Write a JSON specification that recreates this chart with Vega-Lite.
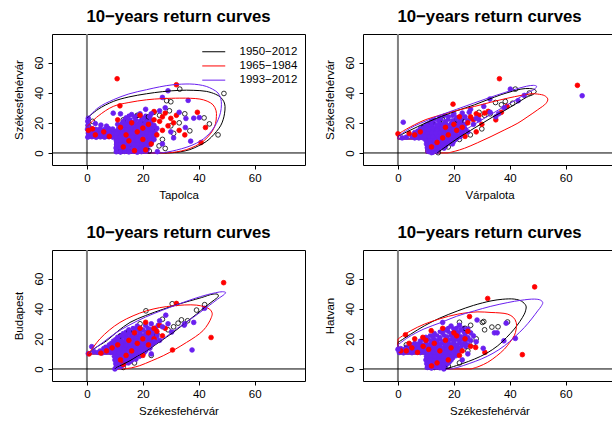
{
"$schema":"https://vega.github.io/schema/vega-lite/v6.json",
"autosize":{"type":"none"},
"padding":{"left":52,"top":34,"right":560,"bottom":387},
"background":"white",
"columns":2,
"spacing":{"row":85,"column":58},
"bounds":"flush",
"resolve":{"legend":{"color":"independent"}},
"datasets":{
"e1":[
{"x":11.2,"y":2.1},{"x":12.7,"y":2.1},{"x":14.2,"y":2.1},{"x":15.7,"y":2.1},{"x":17.2,"y":2.1},{"x":18.7,"y":2.1},{"x":20.2,"y":2.1},{"x":21.7,"y":2.1},
{"x":11.2,"y":4.6},{"x":12.7,"y":4.6},{"x":14.2,"y":4.6},{"x":15.7,"y":4.6},{"x":17.2,"y":4.6},{"x":18.7,"y":4.6},{"x":20.2,"y":4.6},{"x":21.7,"y":4.6},
{"x":11.2,"y":7.1},{"x":12.7,"y":7.1},{"x":14.2,"y":7.1},{"x":15.7,"y":7.1},{"x":17.2,"y":7.1},{"x":18.7,"y":7.1},{"x":20.2,"y":7.1},{"x":21.7,"y":7.1},{"x":23.2,"y":7.1},
{"x":11.2,"y":9.6},{"x":12.7,"y":9.6},{"x":14.2,"y":9.6},{"x":15.7,"y":9.6},{"x":17.2,"y":9.6},{"x":18.7,"y":9.6},{"x":20.2,"y":9.6},{"x":21.7,"y":9.6},{"x":23.2,"y":9.6},
{"x":1,"y":12},{"x":2.5,"y":12},{"x":4,"y":12},{"x":5.5,"y":12},{"x":7,"y":12},{"x":8.5,"y":12},{"x":11.2,"y":12},{"x":12.7,"y":12},{"x":14.2,"y":12},{"x":15.7,"y":12},{"x":17.2,"y":12},{"x":18.7,"y":12},{"x":20.2,"y":12},{"x":21.7,"y":12},{"x":23.2,"y":12},{"x":24.5,"y":12},
{"x":1,"y":14.5},{"x":2.5,"y":14.5},{"x":4,"y":14.5},{"x":5.5,"y":14.5},{"x":7,"y":14.5},{"x":8.5,"y":14.5},{"x":10,"y":14.5},{"x":11.7,"y":14.5},{"x":13.2,"y":14.5},{"x":14.7,"y":14.5},{"x":16.2,"y":14.5},{"x":17.7,"y":14.5},{"x":19.2,"y":14.5},{"x":20.7,"y":14.5},{"x":22.2,"y":14.5},{"x":23.7,"y":14.5},
{"x":11.8,"y":17},{"x":13.3,"y":17},{"x":14.8,"y":17},{"x":16.3,"y":17},{"x":17.8,"y":17},{"x":19.3,"y":17},{"x":20.8,"y":17},{"x":22.3,"y":17},{"x":23.8,"y":17},
{"x":12.5,"y":19.6},{"x":14,"y":19.6},{"x":15.5,"y":19.6},{"x":17,"y":19.6},{"x":18.5,"y":19.6},{"x":20,"y":19.6},{"x":21.5,"y":19.6},{"x":23,"y":19.6},
{"x":13.5,"y":22},{"x":15.5,"y":22},{"x":17.5,"y":22},{"x":19.5,"y":22},{"x":21.5,"y":22},{"x":15,"y":24.6},{"x":18,"y":24.6},{"x":21,"y":24.6}
],
"e2":[
{"x":11.7,"y":2.2},{"x":13.2,"y":2.2},{"x":14.7,"y":2.2},
{"x":11.2,"y":4.7},{"x":12.7,"y":4.7},{"x":14.2,"y":4.7},{"x":15.7,"y":4.7},{"x":17.2,"y":4.7},
{"x":10.9,"y":7.2},{"x":12.4,"y":7.2},{"x":13.9,"y":7.2},{"x":15.4,"y":7.2},{"x":16.9,"y":7.2},{"x":18.4,"y":7.2},{"x":19.9,"y":7.2},
{"x":6,"y":9.7},{"x":7.5,"y":9.7},{"x":9,"y":9.7},{"x":10.7,"y":9.7},{"x":12.2,"y":9.7},{"x":13.7,"y":9.7},{"x":15.2,"y":9.7},{"x":16.7,"y":9.7},{"x":18.2,"y":9.7},{"x":19.7,"y":9.7},{"x":21.2,"y":9.7},
{"x":5.7,"y":12.2},{"x":7.2,"y":12.2},{"x":8.7,"y":12.2},{"x":10.2,"y":12.2},{"x":11.7,"y":12.2},{"x":13.2,"y":12.2},{"x":14.7,"y":12.2},{"x":16.2,"y":12.2},{"x":17.7,"y":12.2},{"x":19.2,"y":12.2},{"x":20.7,"y":12.2},{"x":22.5,"y":12.2},
{"x":7,"y":14.7},{"x":8.5,"y":14.7},{"x":10,"y":14.7},{"x":11.5,"y":14.7},{"x":13,"y":14.7},{"x":14.5,"y":14.7},{"x":16,"y":14.7},{"x":17.5,"y":14.7},{"x":19,"y":14.7},{"x":20.5,"y":14.7},{"x":22,"y":14.7},{"x":23.5,"y":14.7},
{"x":9,"y":17.2},{"x":10.7,"y":17.2},{"x":12.2,"y":17.2},{"x":13.7,"y":17.2},{"x":15.2,"y":17.2},{"x":16.7,"y":17.2},{"x":18.2,"y":17.2},{"x":19.7,"y":17.2},{"x":21.2,"y":17.2},{"x":23,"y":17.2},
{"x":11,"y":19.7},{"x":13,"y":19.7},{"x":15,"y":19.7},{"x":17,"y":19.7},{"x":19,"y":19.7},{"x":21,"y":19.7},{"x":23,"y":19.7},
{"x":13,"y":22.2},{"x":15.5,"y":22.2},{"x":18,"y":22.2},{"x":20.5,"y":22.2},{"x":23,"y":22.2},{"x":16.5,"y":24.7},{"x":19.5,"y":24.7},{"x":22.5,"y":24.7}
],
"e3":[
{"x":11.2,"y":2.2},{"x":12.7,"y":2.2},
{"x":10.9,"y":4.7},{"x":12.4,"y":4.7},{"x":13.9,"y":4.7},{"x":15.4,"y":4.7},
{"x":10.7,"y":7.2},{"x":12.2,"y":7.2},{"x":13.7,"y":7.2},{"x":15.2,"y":7.2},{"x":16.7,"y":7.2},
{"x":10.5,"y":9.7},{"x":12,"y":9.7},{"x":13.5,"y":9.7},{"x":15,"y":9.7},{"x":16.5,"y":9.7},{"x":18,"y":9.7},{"x":19.5,"y":9.7},
{"x":4.7,"y":12.2},{"x":6.2,"y":12.2},{"x":7.7,"y":12.2},{"x":9.2,"y":12.2},{"x":10.7,"y":12.2},{"x":12.2,"y":12.2},{"x":13.7,"y":12.2},{"x":15.2,"y":12.2},{"x":16.7,"y":12.2},{"x":18.2,"y":12.2},{"x":19.7,"y":12.2},{"x":21.2,"y":12.2},
{"x":6.7,"y":14.7},{"x":8.2,"y":14.7},{"x":9.7,"y":14.7},{"x":11.2,"y":14.7},{"x":12.7,"y":14.7},{"x":14.2,"y":14.7},{"x":15.7,"y":14.7},{"x":17.2,"y":14.7},{"x":18.7,"y":14.7},{"x":20.2,"y":14.7},{"x":21.7,"y":14.7},
{"x":8.7,"y":17.2},{"x":10.2,"y":17.2},{"x":11.7,"y":17.2},{"x":13.2,"y":17.2},{"x":14.7,"y":17.2},{"x":16.2,"y":17.2},{"x":17.7,"y":17.2},{"x":19.2,"y":17.2},{"x":20.7,"y":17.2},{"x":22.2,"y":17.2},{"x":23.7,"y":17.2},
{"x":10.2,"y":19.7},{"x":12,"y":19.7},{"x":14,"y":19.7},{"x":16,"y":19.7},{"x":18,"y":19.7},{"x":20,"y":19.7},{"x":22,"y":19.7},{"x":24,"y":19.7},
{"x":12,"y":22.2},{"x":14,"y":22.2},{"x":16,"y":22.2},{"x":18,"y":22.2},{"x":20,"y":22.2},{"x":22,"y":22.2},{"x":24,"y":22.2},
{"x":14,"y":24.7},{"x":16.2,"y":24.7},{"x":18.7,"y":24.7},{"x":21.2,"y":24.7},{"x":23.5,"y":24.7},{"x":16.5,"y":27.2},{"x":19,"y":27.2},{"x":21.7,"y":27.2},{"x":24,"y":27.2}
],
"e4":[
{"x":11.2,"y":2.2},{"x":12.7,"y":2.2},{"x":14.2,"y":2.2},{"x":15.7,"y":2.2},{"x":17.2,"y":2.2},
{"x":11,"y":4.7},{"x":12.5,"y":4.7},{"x":14,"y":4.7},{"x":15.5,"y":4.7},{"x":17,"y":4.7},{"x":18.5,"y":4.7},
{"x":10.7,"y":7.2},{"x":12.2,"y":7.2},{"x":13.7,"y":7.2},{"x":15.2,"y":7.2},{"x":16.7,"y":7.2},{"x":18.2,"y":7.2},{"x":19.7,"y":7.2},
{"x":10.9,"y":9.7},{"x":12.4,"y":9.7},{"x":13.9,"y":9.7},{"x":15.4,"y":9.7},{"x":16.9,"y":9.7},{"x":18.4,"y":9.7},{"x":19.9,"y":9.7},{"x":21.4,"y":9.7},
{"x":1.2,"y":12.2},{"x":2.7,"y":12.2},{"x":4.2,"y":12.2},{"x":5.7,"y":12.2},{"x":7.2,"y":12.2},{"x":8.7,"y":12.2},{"x":10.2,"y":12.2},{"x":11.7,"y":12.2},{"x":13.2,"y":12.2},{"x":14.7,"y":12.2},{"x":16.2,"y":12.2},{"x":17.7,"y":12.2},{"x":19.2,"y":12.2},{"x":20.7,"y":12.2},{"x":22.2,"y":12.2},
{"x":3,"y":14.7},{"x":4.7,"y":14.7},{"x":6.2,"y":14.7},{"x":7.7,"y":14.7},{"x":9.2,"y":14.7},{"x":10.7,"y":14.7},{"x":12.2,"y":14.7},{"x":13.7,"y":14.7},{"x":15.2,"y":14.7},{"x":16.7,"y":14.7},{"x":18.2,"y":14.7},{"x":19.7,"y":14.7},{"x":21.2,"y":14.7},{"x":22.7,"y":14.7},{"x":24.2,"y":14.7},
{"x":6,"y":17.2},{"x":8,"y":17.2},{"x":10,"y":17.2},{"x":12,"y":17.2},{"x":14,"y":17.2},{"x":16,"y":17.2},{"x":18,"y":17.2},{"x":20,"y":17.2},{"x":22,"y":17.2},{"x":24,"y":17.2},
{"x":9,"y":19.7},{"x":11,"y":19.7},{"x":13,"y":19.7},{"x":15,"y":19.7},{"x":17,"y":19.7},{"x":19,"y":19.7},{"x":21,"y":19.7},{"x":23,"y":19.7},{"x":25,"y":19.7},
{"x":11.5,"y":22.2},{"x":14,"y":22.2},{"x":16.5,"y":22.2},{"x":19,"y":22.2},{"x":21.5,"y":22.2},{"x":24,"y":22.2},
{"x":15,"y":24.7},{"x":18,"y":24.7},{"x":21,"y":24.7},{"x":23.5,"y":24.7},{"x":18,"y":27.2},{"x":21,"y":27.2},{"x":23.5,"y":27.2}
],
"p1":[
{"x":49,"y":39.5,"g":"a"},{"x":33.2,"y":42.4,"g":"a"},{"x":28.5,"y":34.7,"g":"a"},{"x":30,"y":34,"g":"a"},{"x":29.5,"y":28,"g":"a"},{"x":26,"y":25,"g":"a"},{"x":24,"y":27,"g":"a"},{"x":22,"y":24,"g":"a"},{"x":41.9,"y":23.3,"g":"a"},{"x":43.8,"y":19.3,"g":"a"},{"x":46.9,"y":12,"g":"a"},{"x":36.8,"y":14.7,"g":"a"},{"x":33,"y":20,"g":"a"},{"x":31,"y":13,"g":"a"},{"x":27,"y":9,"g":"a"},{"x":25.8,"y":4.7,"g":"a"},{"x":22.3,"y":1.3,"g":"a"},{"x":28,"y":3,"g":"a"},{"x":20,"y":22,"g":"a"},{"x":18,"y":25,"g":"a"},{"x":13,"y":22,"g":"a"},{"x":2,"y":21,"g":"a"},{"x":0.5,"y":18,"g":"a"},{"x":16,"y":3,"g":"a"},{"x":12,"y":1,"g":"a"},{"x":35,"y":26,"g":"a"},{"x":24,"y":17,"g":"a"},{"x":30,"y":18,"g":"a"},
{"x":0.3,"y":10.5,"g":"c"},{"x":1.8,"y":10.8,"g":"c"},{"x":3.3,"y":10.4,"g":"c"},{"x":4.8,"y":10.7,"g":"c"},{"x":6.3,"y":10.5,"g":"c"},{"x":7.8,"y":10.8,"g":"c"},{"x":9.3,"y":10.5,"g":"c"},
{"x":0.5,"y":13.2,"g":"c"},{"x":2,"y":13.5,"g":"c"},{"x":3.5,"y":13,"g":"c"},{"x":5,"y":13.4,"g":"c"},{"x":6.5,"y":13.1,"g":"c"},{"x":8,"y":13.5,"g":"c"},{"x":9.5,"y":13.2,"g":"c"},
{"x":0.2,"y":15.8,"g":"c"},{"x":1.7,"y":16.2,"g":"c"},{"x":3.2,"y":15.6,"g":"c"},{"x":4.7,"y":16,"g":"c"},{"x":6.2,"y":15.5,"g":"c"},{"x":7.7,"y":16.3,"g":"c"},{"x":9.2,"y":15.9,"g":"c"},
{"x":0.4,"y":18.5,"g":"c"},{"x":0.3,"y":21,"g":"c"},{"x":0.5,"y":23,"g":"c"},{"x":3,"y":19.5,"g":"c"},{"x":5,"y":18.5,"g":"c"},{"x":7,"y":17.8,"g":"c"},
{"x":10.5,"y":0.8,"g":"c"},{"x":12,"y":0.6,"g":"c"},{"x":13.5,"y":1,"g":"c"},{"x":15,"y":0.7,"g":"c"},{"x":16.5,"y":1.1,"g":"c"},{"x":18,"y":0.5,"g":"c"},{"x":19.5,"y":0.9,"g":"c"},{"x":21,"y":1.2,"g":"c"},
{"x":10.4,"y":3.3,"g":"c"},{"x":11.9,"y":3.5,"g":"c"},{"x":13.4,"y":3.1,"g":"c"},{"x":14.9,"y":3.6,"g":"c"},{"x":16.4,"y":3.2,"g":"c"},{"x":17.9,"y":3.5,"g":"c"},{"x":19.4,"y":3.1,"g":"c"},{"x":20.9,"y":3.6,"g":"c"},
{"x":10.6,"y":5.8,"g":"c"},{"x":12.1,"y":6,"g":"c"},{"x":13.6,"y":5.6,"g":"c"},{"x":15.1,"y":6.1,"g":"c"},{"x":16.6,"y":5.7,"g":"c"},{"x":18.1,"y":6,"g":"c"},{"x":19.6,"y":5.6,"g":"c"},{"x":21.1,"y":6.2,"g":"c"},{"x":22.6,"y":5.5,"g":"c"},
{"x":10.5,"y":8.3,"g":"c"},{"x":12,"y":8.6,"g":"c"},{"x":13.5,"y":8.1,"g":"c"},{"x":15,"y":8.5,"g":"c"},{"x":16.5,"y":8.2,"g":"c"},{"x":18,"y":8.6,"g":"c"},{"x":19.5,"y":8.1,"g":"c"},{"x":21,"y":8.4,"g":"c"},{"x":22.5,"y":8.8,"g":"c"},
{"x":10.4,"y":10.8,"g":"c"},{"x":11.9,"y":11,"g":"c"},{"x":13.4,"y":10.6,"g":"c"},{"x":14.9,"y":11.1,"g":"c"},{"x":16.4,"y":10.7,"g":"c"},{"x":17.9,"y":11,"g":"c"},{"x":19.4,"y":10.6,"g":"c"},{"x":20.9,"y":11.2,"g":"c"},{"x":22.4,"y":10.8,"g":"c"},{"x":23.9,"y":11,"g":"c"},
{"x":11,"y":13.3,"g":"c"},{"x":12.5,"y":13.6,"g":"c"},{"x":14,"y":13.1,"g":"c"},{"x":15.5,"y":13.5,"g":"c"},{"x":17,"y":13.2,"g":"c"},{"x":18.5,"y":13.6,"g":"c"},{"x":20,"y":13.1,"g":"c"},{"x":21.5,"y":13.4,"g":"c"},{"x":23,"y":13.7,"g":"c"},{"x":24.5,"y":13.2,"g":"c"},
{"x":11.2,"y":15.8,"g":"c"},{"x":12.7,"y":16,"g":"c"},{"x":14.2,"y":15.6,"g":"c"},{"x":15.7,"y":16.1,"g":"c"},{"x":17.2,"y":15.7,"g":"c"},{"x":18.7,"y":16,"g":"c"},{"x":20.2,"y":15.5,"g":"c"},{"x":21.7,"y":16.2,"g":"c"},{"x":23.2,"y":15.8,"g":"c"},{"x":25,"y":16.3,"g":"c"},
{"x":12,"y":18.3,"g":"c"},{"x":13.5,"y":18.6,"g":"c"},{"x":15,"y":18.1,"g":"c"},{"x":16.5,"y":18.5,"g":"c"},{"x":18,"y":18.2,"g":"c"},{"x":19.5,"y":18.6,"g":"c"},{"x":21,"y":18.2,"g":"c"},{"x":22.5,"y":18.7,"g":"c"},{"x":24,"y":18.3,"g":"c"},
{"x":13,"y":20.8,"g":"c"},{"x":15,"y":21.2,"g":"c"},{"x":17,"y":20.6,"g":"c"},{"x":19,"y":21,"g":"c"},{"x":21,"y":20.7,"g":"c"},{"x":23,"y":21.3,"g":"c"},
{"x":14,"y":23.3,"g":"c"},{"x":17,"y":23.8,"g":"c"},{"x":20,"y":23.2,"g":"c"},{"x":22.5,"y":24,"g":"c"},{"x":12,"y":26,"g":"c"},{"x":16,"y":25.5,"g":"c"},{"x":19,"y":26,"g":"c"},{"x":9.4,"y":26.4,"g":"c"},{"x":11,"y":19,"g":"c"},
{"x":10.8,"y":49.3,"g":"b"},{"x":32,"y":45.3,"g":"b"},{"x":11.8,"y":31.3,"g":"b"},{"x":39.5,"y":27,"g":"b"},{"x":42.4,"y":16.9,"g":"b"},{"x":40.8,"y":6.9,"g":"b"},{"x":35,"y":12,"g":"b"},{"x":12,"y":17,"g":"b"},{"x":14,"y":12,"g":"b"},{"x":16,"y":20,"g":"b"},{"x":18,"y":14,"g":"b"},{"x":20,"y":9,"g":"b"},{"x":22,"y":19,"g":"b"},{"x":24,"y":22,"g":"b"},{"x":26,"y":21,"g":"b"},{"x":27,"y":24,"g":"b"},{"x":28,"y":26.5,"g":"b"},{"x":30,"y":23,"g":"b"},{"x":31,"y":20,"g":"b"},{"x":25,"y":12,"g":"b"},{"x":27,"y":15,"g":"b"},{"x":23,"y":6,"g":"b"},{"x":21,"y":2,"g":"b"},{"x":17,"y":1.5,"g":"b"},{"x":13,"y":4,"g":"b"},{"x":19,"y":25,"g":"b"},{"x":15,"y":8,"g":"b"},{"x":6,"y":14,"g":"b"},{"x":3,"y":12,"g":"b"},{"x":2,"y":16,"g":"b"},{"x":24,"y":27.5,"g":"b"},{"x":29,"y":18,"g":"b"},{"x":32,"y":25,"g":"b"},{"x":33,"y":15,"g":"b"},{"x":20,"y":16.5,"g":"b"},{"x":11,"y":22,"g":"b"},{"x":8,"y":11,"g":"b"},{"x":0.5,"y":15,"g":"b"},
{"x":29,"y":41.3,"g":"c"},{"x":36.2,"y":34.9,"g":"c"},{"x":27,"y":36.9,"g":"c"},{"x":40.2,"y":23.5,"g":"c"},{"x":35.4,"y":22.9,"g":"c"},{"x":38.2,"y":23.1,"g":"c"},{"x":35.2,"y":16.9,"g":"c"},{"x":37.1,"y":7.8,"g":"c"},{"x":25.2,"y":0.9,"g":"c"},{"x":28,"y":30,"g":"c"},{"x":26,"y":28,"g":"c"},{"x":33,"y":27,"g":"c"},{"x":30,"y":14,"g":"c"},{"x":27,"y":6,"g":"c"},{"x":23,"y":26,"g":"c"},{"x":21,"y":29,"g":"c"},{"x":31,"y":10,"g":"c"},{"x":24,"y":9,"g":"c"}
],
"p2":[
{"x":42,"y":42.4,"g":"a"},{"x":47,"y":39.8,"g":"a"},{"x":38.4,"y":34.2,"g":"a"},{"x":34.9,"y":33.5,"g":"a"},{"x":25.9,"y":12,"g":"a"},{"x":14.4,"y":0.2,"g":"a"},{"x":31,"y":25,"g":"a"},{"x":29,"y":27,"g":"a"},{"x":24,"y":21,"g":"a"},{"x":22,"y":9,"g":"a"},{"x":18,"y":4,"g":"a"},{"x":30,"y":16,"g":"a"},{"x":41,"y":33,"g":"a"},{"x":37,"y":32,"g":"a"},{"x":21,"y":22,"g":"a"},{"x":16,"y":22,"g":"a"},{"x":9,"y":17,"g":"a"},{"x":12,"y":20,"g":"a"},{"x":33,"y":26,"g":"a"},
{"x":11,"y":1,"g":"c"},{"x":12.5,"y":0.5,"g":"c"},{"x":14,"y":1.2,"g":"c"},
{"x":10.5,"y":3.5,"g":"c"},{"x":12,"y":3.8,"g":"c"},{"x":13.5,"y":3.3,"g":"c"},{"x":15,"y":3.6,"g":"c"},{"x":16.5,"y":3.2,"g":"c"},
{"x":10.2,"y":6,"g":"c"},{"x":11.7,"y":6.3,"g":"c"},{"x":13.2,"y":5.8,"g":"c"},{"x":14.7,"y":6.2,"g":"c"},{"x":16.2,"y":5.7,"g":"c"},{"x":17.7,"y":6.4,"g":"c"},{"x":19.5,"y":6,"g":"c"},
{"x":10,"y":8.5,"g":"c"},{"x":11.5,"y":8.8,"g":"c"},{"x":13,"y":8.3,"g":"c"},{"x":14.5,"y":8.7,"g":"c"},{"x":16,"y":8.2,"g":"c"},{"x":17.5,"y":8.6,"g":"c"},{"x":19,"y":8.4,"g":"c"},{"x":20.5,"y":8.9,"g":"c"},
{"x":5,"y":11,"g":"c"},{"x":6.5,"y":10.7,"g":"c"},{"x":8,"y":11.3,"g":"c"},{"x":9.5,"y":11,"g":"c"},{"x":11,"y":11.2,"g":"c"},{"x":12.5,"y":10.8,"g":"c"},{"x":14,"y":11.3,"g":"c"},{"x":15.5,"y":10.9,"g":"c"},{"x":17,"y":11.2,"g":"c"},{"x":18.5,"y":10.8,"g":"c"},{"x":20,"y":11.4,"g":"c"},{"x":22,"y":11,"g":"c"},
{"x":6,"y":13.5,"g":"c"},{"x":7.5,"y":13.2,"g":"c"},{"x":9,"y":13.7,"g":"c"},{"x":10.5,"y":13.4,"g":"c"},{"x":12,"y":13.6,"g":"c"},{"x":13.5,"y":13.2,"g":"c"},{"x":15,"y":13.7,"g":"c"},{"x":16.5,"y":13.3,"g":"c"},{"x":18,"y":13.6,"g":"c"},{"x":19.5,"y":13.2,"g":"c"},{"x":21,"y":13.8,"g":"c"},{"x":23,"y":13.4,"g":"c"},
{"x":8,"y":16,"g":"c"},{"x":9.5,"y":16.3,"g":"c"},{"x":11,"y":15.8,"g":"c"},{"x":12.5,"y":16.2,"g":"c"},{"x":14,"y":15.7,"g":"c"},{"x":15.5,"y":16.3,"g":"c"},{"x":17,"y":15.9,"g":"c"},{"x":18.5,"y":16.2,"g":"c"},{"x":20,"y":15.8,"g":"c"},{"x":22,"y":16.4,"g":"c"},{"x":24,"y":16,"g":"c"},
{"x":10,"y":18.5,"g":"c"},{"x":12,"y":18.8,"g":"c"},{"x":14,"y":18.3,"g":"c"},{"x":16,"y":18.7,"g":"c"},{"x":18,"y":18.2,"g":"c"},{"x":20,"y":18.8,"g":"c"},{"x":22,"y":18.4,"g":"c"},{"x":24,"y":19,"g":"c"},
{"x":12,"y":21,"g":"c"},{"x":14.5,"y":21.4,"g":"c"},{"x":17,"y":20.8,"g":"c"},{"x":19.5,"y":21.3,"g":"c"},{"x":22,"y":21,"g":"c"},{"x":25,"y":21.5,"g":"c"},
{"x":15,"y":23.5,"g":"c"},{"x":18,"y":24,"g":"c"},{"x":21,"y":23.4,"g":"c"},{"x":24,"y":24,"g":"c"},{"x":26,"y":23,"g":"c"},{"x":20,"y":26,"g":"c"},{"x":23,"y":26.5,"g":"c"},{"x":25.5,"y":27,"g":"c"},{"x":3,"y":10.5,"g":"c"},{"x":1.5,"y":10,"g":"c"},
{"x":36.3,"y":49.3,"g":"b"},{"x":64.2,"y":44.9,"g":"b"},{"x":19.7,"y":32.4,"g":"b"},{"x":0,"y":12.7,"g":"b"},{"x":39,"y":31,"g":"b"},{"x":32.3,"y":27.6,"g":"b"},{"x":37,"y":27,"g":"b"},{"x":29,"y":25,"g":"b"},{"x":27,"y":22,"g":"b"},{"x":25,"y":20,"g":"b"},{"x":23,"y":17,"g":"b"},{"x":21,"y":15,"g":"b"},{"x":18,"y":12,"g":"b"},{"x":16,"y":10,"g":"b"},{"x":14,"y":7,"g":"b"},{"x":12,"y":4,"g":"b"},{"x":6,"y":12,"g":"b"},{"x":4,"y":13,"g":"b"},{"x":8,"y":14,"g":"b"},{"x":26,"y":24,"g":"b"},{"x":30,"y":19,"g":"b"},{"x":24,"y":11,"g":"b"},{"x":28,"y":14,"g":"b"},{"x":35,"y":22,"g":"b"},{"x":28,"y":26,"g":"b"},{"x":31,"y":26.5,"g":"b"},{"x":20,"y":19,"g":"b"},{"x":17,"y":17,"g":"b"},{"x":22,"y":24,"g":"b"},
{"x":1.9,"y":20.4,"g":"c"},{"x":40.2,"y":42.4,"g":"c"},{"x":45.2,"y":38.2,"g":"c"},{"x":43,"y":34.7,"g":"c"},{"x":32.9,"y":35.8,"g":"c"},{"x":30.7,"y":30.9,"g":"c"},{"x":65.9,"y":38,"g":"c"},{"x":28,"y":23,"g":"c"},{"x":27,"y":19,"g":"c"},{"x":33,"y":27,"g":"c"},{"x":36,"y":26,"g":"c"},{"x":25,"y":14,"g":"c"},{"x":22.3,"y":10.9,"g":"c"},{"x":12,"y":0.2,"g":"c"},{"x":29,"y":22,"g":"c"},{"x":26,"y":29,"g":"c"},{"x":38,"y":30,"g":"c"},{"x":35,"y":24,"g":"c"}
],
"p3":[
{"x":39.2,"y":39.1,"g":"a"},{"x":42.1,"y":42.7,"g":"a"},{"x":33.8,"y":32.6,"g":"a"},{"x":32.6,"y":30.4,"g":"a"},{"x":30.5,"y":43.3,"g":"a"},{"x":21.1,"y":38.6,"g":"a"},{"x":10.6,"y":2,"g":"a"},{"x":23,"y":9,"g":"a"},{"x":29,"y":26,"g":"a"},{"x":27,"y":33,"g":"a"},{"x":25,"y":23,"g":"a"},{"x":19,"y":30,"g":"a"},{"x":15,"y":25,"g":"a"},{"x":12,"y":22,"g":"a"},{"x":17,"y":4,"g":"a"},{"x":13,"y":1,"g":"a"},{"x":31,"y":28,"g":"a"},{"x":36,"y":32,"g":"a"},
{"x":10.5,"y":1,"g":"c"},{"x":12,"y":1.5,"g":"c"},
{"x":10.3,"y":3.5,"g":"c"},{"x":11.8,"y":3.8,"g":"c"},{"x":13.3,"y":3.3,"g":"c"},{"x":14.8,"y":4,"g":"c"},
{"x":10,"y":6,"g":"c"},{"x":11.5,"y":6.3,"g":"c"},{"x":13,"y":5.8,"g":"c"},{"x":14.5,"y":6.2,"g":"c"},{"x":16,"y":5.8,"g":"c"},{"x":17.5,"y":6.5,"g":"c"},
{"x":9.8,"y":8.5,"g":"c"},{"x":11.3,"y":8.8,"g":"c"},{"x":12.8,"y":8.3,"g":"c"},{"x":14.3,"y":8.7,"g":"c"},{"x":15.8,"y":8.2,"g":"c"},{"x":17.3,"y":8.8,"g":"c"},{"x":18.8,"y":8.4,"g":"c"},
{"x":4,"y":11,"g":"c"},{"x":5.5,"y":10.7,"g":"c"},{"x":7,"y":11.2,"g":"c"},{"x":8.5,"y":11,"g":"c"},{"x":10,"y":11.3,"g":"c"},{"x":11.5,"y":10.8,"g":"c"},{"x":13,"y":11.2,"g":"c"},{"x":14.5,"y":10.8,"g":"c"},{"x":16,"y":11.3,"g":"c"},{"x":17.5,"y":10.9,"g":"c"},{"x":19,"y":11.4,"g":"c"},{"x":20.5,"y":11,"g":"c"},
{"x":6,"y":13.5,"g":"c"},{"x":7.5,"y":13.8,"g":"c"},{"x":9,"y":13.3,"g":"c"},{"x":10.5,"y":13.6,"g":"c"},{"x":12,"y":13.2,"g":"c"},{"x":13.5,"y":13.7,"g":"c"},{"x":15,"y":13.3,"g":"c"},{"x":16.5,"y":13.8,"g":"c"},{"x":18,"y":13.4,"g":"c"},{"x":19.5,"y":13.7,"g":"c"},{"x":21,"y":13.2,"g":"c"},{"x":22.5,"y":13.8,"g":"c"},
{"x":8,"y":16,"g":"c"},{"x":9.5,"y":16.3,"g":"c"},{"x":11,"y":15.8,"g":"c"},{"x":12.5,"y":16.2,"g":"c"},{"x":14,"y":15.8,"g":"c"},{"x":15.5,"y":16.3,"g":"c"},{"x":17,"y":15.9,"g":"c"},{"x":18.5,"y":16.4,"g":"c"},{"x":20,"y":15.9,"g":"c"},{"x":21.5,"y":16.3,"g":"c"},{"x":23,"y":15.8,"g":"c"},
{"x":9.5,"y":18.5,"g":"c"},{"x":11,"y":18.8,"g":"c"},{"x":12.5,"y":18.3,"g":"c"},{"x":14,"y":18.7,"g":"c"},{"x":15.5,"y":18.2,"g":"c"},{"x":17,"y":18.8,"g":"c"},{"x":18.5,"y":18.4,"g":"c"},{"x":20,"y":18.9,"g":"c"},{"x":21.5,"y":18.4,"g":"c"},{"x":23,"y":18.8,"g":"c"},{"x":24.5,"y":18.3,"g":"c"},
{"x":11,"y":21,"g":"c"},{"x":13,"y":21.4,"g":"c"},{"x":15,"y":20.8,"g":"c"},{"x":17,"y":21.3,"g":"c"},{"x":19,"y":20.9,"g":"c"},{"x":21,"y":21.4,"g":"c"},{"x":23,"y":21,"g":"c"},{"x":25,"y":21.5,"g":"c"},
{"x":13,"y":23.5,"g":"c"},{"x":15,"y":23.9,"g":"c"},{"x":17,"y":23.3,"g":"c"},{"x":19,"y":23.8,"g":"c"},{"x":21,"y":23.4,"g":"c"},{"x":23,"y":23.8,"g":"c"},{"x":25,"y":23.4,"g":"c"},
{"x":15,"y":26,"g":"c"},{"x":17.5,"y":26.4,"g":"c"},{"x":20,"y":25.9,"g":"c"},{"x":22.5,"y":26.3,"g":"c"},{"x":24.5,"y":27,"g":"c"},
{"x":18,"y":28.5,"g":"c"},{"x":21,"y":29,"g":"c"},{"x":23,"y":30,"g":"c"},{"x":25.5,"y":29,"g":"c"},{"x":1.7,"y":14.8,"g":"c"},{"x":0.5,"y":10.2,"g":"c"},{"x":2.5,"y":11.5,"g":"c"},
{"x":48.9,"y":57.3,"g":"b"},{"x":44.4,"y":20.9,"g":"b"},{"x":30.6,"y":12.6,"g":"b"},{"x":32,"y":43.5,"g":"b"},{"x":0.8,"y":10,"g":"b"},{"x":26,"y":29,"g":"b"},{"x":24,"y":27,"g":"b"},{"x":27,"y":22,"g":"b"},{"x":25,"y":25,"g":"b"},{"x":22,"y":24,"g":"b"},{"x":20,"y":20,"g":"b"},{"x":18,"y":17,"g":"b"},{"x":16,"y":12,"g":"b"},{"x":14,"y":9,"g":"b"},{"x":12,"y":6,"g":"b"},{"x":13,"y":3,"g":"b"},{"x":11,"y":16,"g":"b"},{"x":9,"y":14,"g":"b"},{"x":7,"y":12,"g":"b"},{"x":5,"y":10.5,"g":"b"},{"x":19,"y":27,"g":"b"},{"x":22,"y":16,"g":"b"},{"x":21,"y":31,"g":"b"},{"x":17,"y":24,"g":"b"},{"x":15,"y":19,"g":"b"},{"x":28,"y":27,"g":"b"},{"x":24,"y":20,"g":"b"},{"x":20,"y":9,"g":"b"},
{"x":37.6,"y":12.6,"g":"c"},{"x":42.1,"y":40.3,"g":"c"},{"x":38.2,"y":30.9,"g":"c"},{"x":34.8,"y":29.1,"g":"c"},{"x":28.2,"y":35.7,"g":"c"},{"x":30.3,"y":24.5,"g":"c"},{"x":10,"y":0,"g":"c"},{"x":26,"y":32,"g":"c"},{"x":27,"y":28,"g":"c"},{"x":29,"y":30,"g":"c"},{"x":35,"y":30,"g":"c"},{"x":24,"y":18,"g":"c"},{"x":23,"y":10,"g":"c"},{"x":26,"y":19,"g":"c"}
],
"p4":[
{"x":39.2,"y":31.2,"g":"a"},{"x":35.8,"y":28,"g":"a"},{"x":33.6,"y":27.8,"g":"a"},{"x":30.7,"y":31.5,"g":"a"},{"x":26,"y":29,"g":"a"},{"x":24,"y":27,"g":"a"},{"x":22,"y":31,"g":"a"},{"x":20,"y":24,"g":"a"},{"x":28,"y":20,"g":"a"},{"x":25,"y":12,"g":"a"},{"x":22,"y":4,"g":"a"},{"x":18,"y":2,"g":"a"},{"x":13,"y":1,"g":"a"},{"x":1,"y":12,"g":"a"},{"x":3,"y":16,"g":"a"},{"x":27,"y":17,"g":"a"},{"x":31,"y":26,"g":"a"},{"x":30.2,"y":30.9,"g":"a"},
{"x":10.5,"y":1,"g":"c"},{"x":12,"y":0.6,"g":"c"},{"x":13.5,"y":1.2,"g":"c"},{"x":15,"y":0.8,"g":"c"},{"x":16.5,"y":0.5,"g":"c"},
{"x":10.3,"y":3.5,"g":"c"},{"x":11.8,"y":3.8,"g":"c"},{"x":13.3,"y":3.3,"g":"c"},{"x":14.8,"y":3.7,"g":"c"},{"x":16.3,"y":3.2,"g":"c"},{"x":17.8,"y":3.6,"g":"c"},
{"x":10,"y":6,"g":"c"},{"x":11.5,"y":6.3,"g":"c"},{"x":13,"y":5.8,"g":"c"},{"x":14.5,"y":6.2,"g":"c"},{"x":16,"y":5.7,"g":"c"},{"x":17.5,"y":6.3,"g":"c"},{"x":19,"y":5.9,"g":"c"},
{"x":10.2,"y":8.5,"g":"c"},{"x":11.7,"y":8.8,"g":"c"},{"x":13.2,"y":8.3,"g":"c"},{"x":14.7,"y":8.7,"g":"c"},{"x":16.2,"y":8.2,"g":"c"},{"x":17.7,"y":8.7,"g":"c"},{"x":19.2,"y":8.3,"g":"c"},{"x":20.7,"y":8.8,"g":"c"},
{"x":0.5,"y":11,"g":"c"},{"x":2,"y":10.7,"g":"c"},{"x":3.5,"y":11.2,"g":"c"},{"x":5,"y":10.8,"g":"c"},{"x":6.5,"y":11.3,"g":"c"},{"x":8,"y":10.9,"g":"c"},{"x":9.5,"y":11.2,"g":"c"},{"x":11,"y":10.8,"g":"c"},{"x":12.5,"y":11.3,"g":"c"},{"x":14,"y":10.9,"g":"c"},{"x":15.5,"y":11.2,"g":"c"},{"x":17,"y":10.8,"g":"c"},{"x":18.5,"y":11.3,"g":"c"},{"x":20,"y":10.9,"g":"c"},{"x":21.5,"y":11.2,"g":"c"},
{"x":1,"y":13.5,"g":"c"},{"x":2.5,"y":13.2,"g":"c"},{"x":4,"y":13.7,"g":"c"},{"x":5.5,"y":13.3,"g":"c"},{"x":7,"y":13.6,"g":"c"},{"x":8.5,"y":13.2,"g":"c"},{"x":10,"y":13.7,"g":"c"},{"x":11.5,"y":13.3,"g":"c"},{"x":13,"y":13.6,"g":"c"},{"x":14.5,"y":13.2,"g":"c"},{"x":16,"y":13.7,"g":"c"},{"x":17.5,"y":13.3,"g":"c"},{"x":19,"y":13.6,"g":"c"},{"x":20.5,"y":13.2,"g":"c"},{"x":22,"y":13.7,"g":"c"},
{"x":5,"y":16,"g":"c"},{"x":7,"y":16.3,"g":"c"},{"x":9,"y":15.8,"g":"c"},{"x":11,"y":16.2,"g":"c"},{"x":13,"y":15.8,"g":"c"},{"x":15,"y":16.3,"g":"c"},{"x":17,"y":15.9,"g":"c"},{"x":19,"y":16.2,"g":"c"},{"x":21,"y":15.8,"g":"c"},{"x":23,"y":16.3,"g":"c"},{"x":25,"y":16,"g":"c"},
{"x":8,"y":18.5,"g":"c"},{"x":10,"y":18.8,"g":"c"},{"x":12,"y":18.3,"g":"c"},{"x":14,"y":18.7,"g":"c"},{"x":16,"y":18.2,"g":"c"},{"x":18,"y":18.7,"g":"c"},{"x":20,"y":18.3,"g":"c"},{"x":22,"y":18.8,"g":"c"},{"x":24,"y":18.4,"g":"c"},{"x":26,"y":18.9,"g":"c"},
{"x":10,"y":21,"g":"c"},{"x":12.5,"y":21.3,"g":"c"},{"x":15,"y":20.8,"g":"c"},{"x":17.5,"y":21.3,"g":"c"},{"x":20,"y":20.9,"g":"c"},{"x":22.5,"y":21.3,"g":"c"},{"x":25,"y":20.8,"g":"c"},
{"x":13,"y":23.5,"g":"c"},{"x":16,"y":23.9,"g":"c"},{"x":19,"y":23.4,"g":"c"},{"x":21.5,"y":23.8,"g":"c"},{"x":24,"y":23.3,"g":"c"},{"x":26,"y":24,"g":"c"},
{"x":17,"y":26,"g":"c"},{"x":20,"y":26.5,"g":"c"},{"x":22.5,"y":26,"g":"c"},{"x":25,"y":26.5,"g":"c"},{"x":19,"y":28.5,"g":"c"},{"x":22,"y":29,"g":"c"},
{"x":48.9,"y":54.5,"g":"b"},{"x":32.1,"y":46.8,"g":"b"},{"x":44.5,"y":9.5,"g":"b"},{"x":31.1,"y":11,"g":"b"},{"x":27.8,"y":14.3,"g":"b"},{"x":2.7,"y":22.7,"g":"b"},{"x":25.6,"y":34.8,"g":"b"},{"x":11.9,"y":25.4,"g":"b"},{"x":8.9,"y":21,"g":"b"},{"x":3,"y":12,"g":"b"},{"x":5,"y":14,"g":"b"},{"x":7,"y":11,"g":"b"},{"x":9,"y":15,"g":"b"},{"x":11,"y":13,"g":"b"},{"x":13,"y":17,"g":"b"},{"x":15,"y":12,"g":"b"},{"x":17,"y":19,"g":"b"},{"x":19,"y":14,"g":"b"},{"x":21,"y":22,"g":"b"},{"x":23,"y":12,"g":"b"},{"x":24,"y":20,"g":"b"},{"x":26,"y":15,"g":"b"},{"x":22,"y":9,"g":"b"},{"x":18,"y":6,"g":"b"},{"x":14,"y":4,"g":"b"},{"x":12,"y":2,"g":"b"},{"x":20,"y":24,"g":"b"},{"x":25,"y":25,"g":"b"},{"x":10,"y":19,"g":"b"},{"x":1,"y":12,"g":"b"},{"x":4,"y":17,"g":"b"},{"x":16,"y":27,"g":"b"},{"x":6,"y":20,"g":"b"},
{"x":42,"y":20.3,"g":"c"},{"x":38.7,"y":30.4,"g":"c"},{"x":28.3,"y":32.5,"g":"c"},{"x":34.5,"y":24,"g":"c"},{"x":35.5,"y":24,"g":"c"},{"x":37.9,"y":18.7,"g":"c"},{"x":30.5,"y":13.7,"g":"c"},{"x":16.4,"y":0,"g":"c"},{"x":0,"y":13,"g":"c"},{"x":27,"y":22,"g":"c"},{"x":28,"y":18,"g":"c"},{"x":25,"y":10,"g":"c"},{"x":23,"y":6,"g":"c"},{"x":16,"y":30.9,"g":"c"}
],
"c1":[
{"g":"a","p":1,"i":1,"x":0,"y":23},{"g":"a","p":1,"i":2,"x":4,"y":29},{"g":"a","p":1,"i":3,"x":9.4,"y":34.2},{"g":"a","p":1,"i":4,"x":15,"y":37.2},{"g":"a","p":1,"i":5,"x":21.3,"y":39.3},{"g":"a","p":1,"i":6,"x":27,"y":40.7},{"g":"a","p":1,"i":7,"x":33.2,"y":41.6},{"g":"a","p":1,"i":8,"x":38,"y":41.6},{"g":"a","p":1,"i":9,"x":42.7,"y":40.9},{"g":"a","p":1,"i":10,"x":46,"y":39},{"g":"a","p":1,"i":11,"x":47.8,"y":37},{"g":"a","p":1,"i":12,"x":49,"y":34},{"g":"a","p":1,"i":13,"x":49.4,"y":30.9},{"g":"a","p":1,"i":14,"x":49.2,"y":26},{"g":"a","p":1,"i":15,"x":48.7,"y":22},{"g":"a","p":1,"i":16,"x":47.8,"y":18},{"g":"a","p":1,"i":17,"x":46.3,"y":14.2},{"g":"a","p":1,"i":18,"x":44.5,"y":10.5},{"g":"a","p":1,"i":19,"x":42.7,"y":7.6},{"g":"a","p":1,"i":20,"x":40,"y":4.8},{"g":"a","p":1,"i":21,"x":36.8,"y":2.2},{"g":"a","p":1,"i":22,"x":33.5,"y":0.8},{"g":"a","p":1,"i":23,"x":30.8,"y":0.2},{"g":"a","p":1,"i":24,"x":28,"y":0},
{"g":"b","p":1,"i":1,"x":0,"y":17.5},{"g":"b","p":1,"i":2,"x":4,"y":24.5},{"g":"b","p":1,"i":3,"x":9.4,"y":30.9},{"g":"b","p":1,"i":4,"x":15,"y":33.5},{"g":"b","p":1,"i":5,"x":21.3,"y":35.3},{"g":"b","p":1,"i":6,"x":27,"y":36.1},{"g":"b","p":1,"i":7,"x":33.2,"y":36.4},{"g":"b","p":1,"i":8,"x":37,"y":36.3},{"g":"b","p":1,"i":9,"x":40.4,"y":35.8},{"g":"b","p":1,"i":10,"x":43,"y":34.4},{"g":"b","p":1,"i":11,"x":45.1,"y":32},{"g":"b","p":1,"i":12,"x":46.2,"y":28},{"g":"b","p":1,"i":13,"x":46.3,"y":24.2},{"g":"b","p":1,"i":14,"x":46,"y":19.5},{"g":"b","p":1,"i":15,"x":45.1,"y":15.3},{"g":"b","p":1,"i":16,"x":43.5,"y":11.2},{"g":"b","p":1,"i":17,"x":41.5,"y":7.6},{"g":"b","p":1,"i":18,"x":38.8,"y":4.6},{"g":"b","p":1,"i":19,"x":35.6,"y":2.2},{"g":"b","p":1,"i":20,"x":32,"y":0.7},{"g":"b","p":1,"i":21,"x":28.5,"y":0},
{"g":"c","p":1,"i":1,"x":0,"y":22.5},{"g":"c","p":1,"i":2,"x":4,"y":30},{"g":"c","p":1,"i":3,"x":9.4,"y":35.3},{"g":"c","p":1,"i":4,"x":15,"y":39.2},{"g":"c","p":1,"i":5,"x":21.3,"y":42},{"g":"c","p":1,"i":6,"x":26,"y":43.9},{"g":"c","p":1,"i":7,"x":30.8,"y":45.3},{"g":"c","p":1,"i":8,"x":36.8,"y":45.8},{"g":"c","p":1,"i":9,"x":40,"y":45.3},{"g":"c","p":1,"i":10,"x":42.7,"y":44.2},{"g":"c","p":1,"i":11,"x":45,"y":42.3},{"g":"c","p":1,"i":12,"x":46.9,"y":39.8},{"g":"c","p":1,"i":13,"x":47.9,"y":36},{"g":"c","p":1,"i":14,"x":48.1,"y":32},{"g":"c","p":1,"i":15,"x":47.8,"y":27},{"g":"c","p":1,"i":16,"x":46.9,"y":22},{"g":"c","p":1,"i":17,"x":45.6,"y":17.3},{"g":"c","p":1,"i":18,"x":43.9,"y":13.1},{"g":"c","p":1,"i":19,"x":41.8,"y":9.5},{"g":"c","p":1,"i":20,"x":39.2,"y":6.5},{"g":"c","p":1,"i":21,"x":35.8,"y":3.9},{"g":"c","p":1,"i":22,"x":32,"y":1.9},{"g":"c","p":1,"i":23,"x":29,"y":0.7},{"g":"c","p":1,"i":24,"x":26.1,"y":0},
{"g":"a","p":2,"i":1,"x":28,"y":0},{"g":"a","p":2,"i":2,"x":10,"y":0},{"g":"a","p":2,"i":3,"x":10,"y":10},{"g":"a","p":2,"i":4,"x":0,"y":10},{"g":"a","p":2,"i":5,"x":0,"y":23},
{"g":"b","p":2,"i":1,"x":28.5,"y":0},{"g":"b","p":2,"i":2,"x":10,"y":0},{"g":"b","p":2,"i":3,"x":10,"y":10},{"g":"b","p":2,"i":4,"x":0,"y":10},{"g":"b","p":2,"i":5,"x":0,"y":17.5},
{"g":"c","p":2,"i":1,"x":26.1,"y":0},{"g":"c","p":2,"i":2,"x":10,"y":0},{"g":"c","p":2,"i":3,"x":10,"y":10},{"g":"c","p":2,"i":4,"x":0,"y":10},{"g":"c","p":2,"i":5,"x":0,"y":22.5}
],
"c2":[
{"g":"a","p":1,"i":1,"x":0,"y":11},{"g":"a","p":1,"i":2,"x":3.5,"y":14.3},{"g":"a","p":1,"i":3,"x":7.1,"y":17.5},{"g":"a","p":1,"i":4,"x":11,"y":20.8},{"g":"a","p":1,"i":5,"x":15.5,"y":24.2},{"g":"a","p":1,"i":6,"x":21,"y":28},{"g":"a","p":1,"i":7,"x":27.4,"y":32},{"g":"a","p":1,"i":8,"x":32,"y":35.3},{"g":"a","p":1,"i":9,"x":36.9,"y":38.7},{"g":"a","p":1,"i":10,"x":41,"y":41},{"g":"a","p":1,"i":11,"x":44,"y":42.4},{"g":"a","p":1,"i":12,"x":47,"y":42.8},{"g":"a","p":1,"i":13,"x":49,"y":42},{"g":"a","p":1,"i":14,"x":49.5,"y":40.8},{"g":"a","p":1,"i":15,"x":48.5,"y":39},{"g":"a","p":1,"i":16,"x":46,"y":37},{"g":"a","p":1,"i":17,"x":42,"y":32.4},{"g":"a","p":1,"i":18,"x":38,"y":28},{"g":"a","p":1,"i":19,"x":34,"y":24},{"g":"a","p":1,"i":20,"x":30,"y":19.5},{"g":"a","p":1,"i":21,"x":26,"y":15},{"g":"a","p":1,"i":22,"x":22,"y":10.5},{"g":"a","p":1,"i":23,"x":19.5,"y":7.3},{"g":"a","p":1,"i":24,"x":17,"y":4},{"g":"a","p":1,"i":25,"x":15.5,"y":2},{"g":"a","p":1,"i":26,"x":14,"y":0},
{"g":"b","p":1,"i":1,"x":0,"y":12.5},{"g":"b","p":1,"i":2,"x":3,"y":15.8},{"g":"b","p":1,"i":3,"x":5.9,"y":18.7},{"g":"b","p":1,"i":4,"x":10,"y":22.2},{"g":"b","p":1,"i":5,"x":15.5,"y":25.3},{"g":"b","p":1,"i":6,"x":21,"y":28.2},{"g":"b","p":1,"i":7,"x":27.4,"y":30.9},{"g":"b","p":1,"i":8,"x":33,"y":33.6},{"g":"b","p":1,"i":9,"x":39.3,"y":36.4},{"g":"b","p":1,"i":10,"x":44,"y":38.2},{"g":"b","p":1,"i":11,"x":47.6,"y":39.3},{"g":"b","p":1,"i":12,"x":50,"y":39.1},{"g":"b","p":1,"i":13,"x":52.5,"y":38},{"g":"b","p":1,"i":14,"x":53.6,"y":35.8},{"g":"b","p":1,"i":15,"x":53,"y":33},{"g":"b","p":1,"i":16,"x":50,"y":28.7},{"g":"b","p":1,"i":17,"x":46.5,"y":24.2},{"g":"b","p":1,"i":18,"x":42.9,"y":19.8},{"g":"b","p":1,"i":19,"x":38,"y":15.2},{"g":"b","p":1,"i":20,"x":33.3,"y":10.9},{"g":"b","p":1,"i":21,"x":28.5,"y":6.8},{"g":"b","p":1,"i":22,"x":23.8,"y":3.1},{"g":"b","p":1,"i":23,"x":20.5,"y":1.2},{"g":"b","p":1,"i":24,"x":17.9,"y":0},
{"g":"c","p":1,"i":1,"x":0,"y":11},{"g":"c","p":1,"i":2,"x":3,"y":14.8},{"g":"c","p":1,"i":3,"x":6,"y":18},{"g":"c","p":1,"i":4,"x":10.5,"y":21.6},{"g":"c","p":1,"i":5,"x":15,"y":25},{"g":"c","p":1,"i":6,"x":21,"y":29},{"g":"c","p":1,"i":7,"x":27,"y":33},{"g":"c","p":1,"i":8,"x":32.5,"y":36.6},{"g":"c","p":1,"i":9,"x":38,"y":40},{"g":"c","p":1,"i":10,"x":42,"y":42.3},{"g":"c","p":1,"i":11,"x":46,"y":44.3},{"g":"c","p":1,"i":12,"x":48.5,"y":44.9},{"g":"c","p":1,"i":13,"x":49.6,"y":44.3},{"g":"c","p":1,"i":14,"x":49,"y":42.6},{"g":"c","p":1,"i":15,"x":47,"y":40.5},{"g":"c","p":1,"i":16,"x":45,"y":38.5},{"g":"c","p":1,"i":17,"x":41.5,"y":34.5},{"g":"c","p":1,"i":18,"x":38,"y":30.8},{"g":"c","p":1,"i":19,"x":34,"y":26.4},{"g":"c","p":1,"i":20,"x":30,"y":22},{"g":"c","p":1,"i":21,"x":26,"y":17.5},{"g":"c","p":1,"i":22,"x":22,"y":12.8},{"g":"c","p":1,"i":23,"x":19,"y":8.8},{"g":"c","p":1,"i":24,"x":16,"y":5},{"g":"c","p":1,"i":25,"x":14,"y":2.4},{"g":"c","p":1,"i":26,"x":12.5,"y":0},
{"g":"a","p":2,"i":1,"x":14,"y":0},{"g":"a","p":2,"i":2,"x":10,"y":0},{"g":"a","p":2,"i":3,"x":10,"y":9.3},{"g":"a","p":2,"i":4,"x":0,"y":9.3},{"g":"a","p":2,"i":5,"x":0,"y":11},
{"g":"b","p":2,"i":1,"x":17.9,"y":0},{"g":"b","p":2,"i":2,"x":10,"y":0},{"g":"b","p":2,"i":3,"x":10,"y":9.3},{"g":"b","p":2,"i":4,"x":0,"y":9.3},{"g":"b","p":2,"i":5,"x":0,"y":12.5},
{"g":"c","p":2,"i":1,"x":12.5,"y":0},{"g":"c","p":2,"i":2,"x":10,"y":0},{"g":"c","p":2,"i":3,"x":10,"y":9.3},{"g":"c","p":2,"i":4,"x":0,"y":9.3},{"g":"c","p":2,"i":5,"x":0,"y":11}
],
"c3":[
{"g":"a","p":1,"i":1,"x":0.5,"y":10},{"g":"a","p":1,"i":2,"x":3,"y":14},{"g":"a","p":1,"i":3,"x":7,"y":18.7},{"g":"a","p":1,"i":4,"x":11,"y":25},{"g":"a","p":1,"i":5,"x":15.4,"y":30.9},{"g":"a","p":1,"i":6,"x":21,"y":35.5},{"g":"a","p":1,"i":7,"x":27.3,"y":39.7},{"g":"a","p":1,"i":8,"x":32,"y":42.6},{"g":"a","p":1,"i":9,"x":36.8,"y":45.2},{"g":"a","p":1,"i":10,"x":41,"y":47.4},{"g":"a","p":1,"i":11,"x":45.1,"y":49.7},{"g":"a","p":1,"i":12,"x":46.8,"y":49.5},{"g":"a","p":1,"i":13,"x":47,"y":48.3},{"g":"a","p":1,"i":14,"x":45.1,"y":45.2},{"g":"a","p":1,"i":15,"x":42,"y":40.8},{"g":"a","p":1,"i":16,"x":39.2,"y":36.4},{"g":"a","p":1,"i":17,"x":35,"y":30.3},{"g":"a","p":1,"i":18,"x":30.8,"y":24.2},{"g":"a","p":1,"i":19,"x":26,"y":18},{"g":"a","p":1,"i":20,"x":21.3,"y":12.1},{"g":"a","p":1,"i":21,"x":18,"y":8.5},{"g":"a","p":1,"i":22,"x":15.4,"y":5.5},{"g":"a","p":1,"i":23,"x":12.8,"y":3},{"g":"a","p":1,"i":24,"x":10.6,"y":1.1},{"g":"a","p":1,"i":25,"x":10,"y":0},
{"g":"b","p":1,"i":1,"x":0.5,"y":10},{"g":"b","p":1,"i":2,"x":2.5,"y":15},{"g":"b","p":1,"i":3,"x":4.6,"y":19.9},{"g":"b","p":1,"i":4,"x":8,"y":25.8},{"g":"b","p":1,"i":5,"x":11.8,"y":30.9},{"g":"b","p":1,"i":6,"x":16.5,"y":35.3},{"g":"b","p":1,"i":7,"x":21.3,"y":38.6},{"g":"b","p":1,"i":8,"x":26,"y":40.7},{"g":"b","p":1,"i":9,"x":30.8,"y":41.9},{"g":"b","p":1,"i":10,"x":35,"y":42.5},{"g":"b","p":1,"i":11,"x":39.2,"y":42.4},{"g":"b","p":1,"i":12,"x":42,"y":41.3},{"g":"b","p":1,"i":13,"x":43.9,"y":39.7},{"g":"b","p":1,"i":14,"x":44.8,"y":37},{"g":"b","p":1,"i":15,"x":44.5,"y":34.2},{"g":"b","p":1,"i":16,"x":43.3,"y":29.8},{"g":"b","p":1,"i":17,"x":41.5,"y":25.4},{"g":"b","p":1,"i":18,"x":38.8,"y":21.4},{"g":"b","p":1,"i":19,"x":35.6,"y":17.6},{"g":"b","p":1,"i":20,"x":31.5,"y":13},{"g":"b","p":1,"i":21,"x":27.3,"y":8.8},{"g":"b","p":1,"i":22,"x":23,"y":5.3},{"g":"b","p":1,"i":23,"x":18.9,"y":2.2},{"g":"b","p":1,"i":24,"x":16,"y":0.8},{"g":"b","p":1,"i":25,"x":13,"y":0},
{"g":"c","p":1,"i":1,"x":0.5,"y":10},{"g":"c","p":1,"i":2,"x":3,"y":13.8},{"g":"c","p":1,"i":3,"x":6,"y":18},{"g":"c","p":1,"i":4,"x":10,"y":23.5},{"g":"c","p":1,"i":5,"x":15,"y":29},{"g":"c","p":1,"i":6,"x":21,"y":34.5},{"g":"c","p":1,"i":7,"x":27,"y":39},{"g":"c","p":1,"i":8,"x":32,"y":42.5},{"g":"c","p":1,"i":9,"x":38,"y":46.5},{"g":"c","p":1,"i":10,"x":43,"y":49.3},{"g":"c","p":1,"i":11,"x":46,"y":50.6},{"g":"c","p":1,"i":12,"x":48.5,"y":51.3},{"g":"c","p":1,"i":13,"x":49.6,"y":50.8},{"g":"c","p":1,"i":14,"x":49,"y":49.3},{"g":"c","p":1,"i":15,"x":47.5,"y":47.4},{"g":"c","p":1,"i":16,"x":44,"y":42.5},{"g":"c","p":1,"i":17,"x":40.4,"y":37.5},{"g":"c","p":1,"i":18,"x":36,"y":31.6},{"g":"c","p":1,"i":19,"x":32,"y":26.5},{"g":"c","p":1,"i":20,"x":28,"y":21},{"g":"c","p":1,"i":21,"x":23.7,"y":15.4},{"g":"c","p":1,"i":22,"x":19.5,"y":10.5},{"g":"c","p":1,"i":23,"x":15.4,"y":6.6},{"g":"c","p":1,"i":24,"x":12.5,"y":3.5},{"g":"c","p":1,"i":25,"x":10,"y":1.1},
{"g":"a","p":2,"i":1,"x":10,"y":0},{"g":"a","p":2,"i":2,"x":10,"y":10},{"g":"a","p":2,"i":3,"x":0.5,"y":10},
{"g":"b","p":2,"i":1,"x":13,"y":0},{"g":"b","p":2,"i":2,"x":10,"y":0},{"g":"b","p":2,"i":3,"x":10,"y":10},{"g":"b","p":2,"i":4,"x":0.5,"y":10},
{"g":"c","p":2,"i":1,"x":10,"y":1.1},{"g":"c","p":2,"i":2,"x":10,"y":10},{"g":"c","p":2,"i":3,"x":0.5,"y":10}
],
"c4":[
{"g":"a","p":1,"i":1,"x":0,"y":17.6},{"g":"a","p":1,"i":2,"x":4.5,"y":23},{"g":"a","p":1,"i":3,"x":9.5,"y":28.7},{"g":"a","p":1,"i":4,"x":15,"y":33.8},{"g":"a","p":1,"i":5,"x":21.4,"y":38.6},{"g":"a","p":1,"i":6,"x":27,"y":42.2},{"g":"a","p":1,"i":7,"x":33.3,"y":45.2},{"g":"a","p":1,"i":8,"x":37.5,"y":46.3},{"g":"a","p":1,"i":9,"x":41.6,"y":46.4},{"g":"a","p":1,"i":10,"x":44.2,"y":45},{"g":"a","p":1,"i":11,"x":45.8,"y":41.9},{"g":"a","p":1,"i":12,"x":45.7,"y":39},{"g":"a","p":1,"i":13,"x":45.2,"y":36.4},{"g":"a","p":1,"i":14,"x":43.6,"y":31.5},{"g":"a","p":1,"i":15,"x":41.6,"y":26.5},{"g":"a","p":1,"i":16,"x":38.8,"y":20.8},{"g":"a","p":1,"i":17,"x":35.7,"y":15.4},{"g":"a","p":1,"i":18,"x":31.7,"y":10.4},{"g":"a","p":1,"i":19,"x":27.4,"y":6.6},{"g":"a","p":1,"i":20,"x":23,"y":3.5},{"g":"a","p":1,"i":21,"x":19,"y":1.1},{"g":"a","p":1,"i":22,"x":17,"y":0},
{"g":"b","p":1,"i":1,"x":0,"y":19.9},{"g":"b","p":1,"i":2,"x":4.5,"y":25.3},{"g":"b","p":1,"i":3,"x":9.5,"y":29.8},{"g":"b","p":1,"i":4,"x":15,"y":33.3},{"g":"b","p":1,"i":5,"x":21.4,"y":36.4},{"g":"b","p":1,"i":6,"x":28.6,"y":37.9},{"g":"b","p":1,"i":7,"x":33.3,"y":37.5},{"g":"b","p":1,"i":8,"x":36.5,"y":37.2},{"g":"b","p":1,"i":9,"x":39.3,"y":36.4},{"g":"b","p":1,"i":10,"x":41.3,"y":34.2},{"g":"b","p":1,"i":11,"x":42.3,"y":30.9},{"g":"b","p":1,"i":12,"x":42.3,"y":26.5},{"g":"b","p":1,"i":13,"x":41.6,"y":22},{"g":"b","p":1,"i":14,"x":40,"y":17.6},{"g":"b","p":1,"i":15,"x":38.1,"y":13.2},{"g":"b","p":1,"i":16,"x":35.3,"y":8.6},{"g":"b","p":1,"i":17,"x":32.1,"y":4.4},{"g":"b","p":1,"i":18,"x":29,"y":1.7},{"g":"b","p":1,"i":19,"x":26.2,"y":0},
{"g":"c","p":1,"i":1,"x":0,"y":16},{"g":"c","p":1,"i":2,"x":3.6,"y":20.9},{"g":"c","p":1,"i":3,"x":9,"y":26.3},{"g":"c","p":1,"i":4,"x":15.5,"y":30.9},{"g":"c","p":1,"i":5,"x":21,"y":35},{"g":"c","p":1,"i":6,"x":27.4,"y":38.6},{"g":"c","p":1,"i":7,"x":33,"y":41.5},{"g":"c","p":1,"i":8,"x":39.3,"y":44.1},{"g":"c","p":1,"i":9,"x":44,"y":45.6},{"g":"c","p":1,"i":10,"x":48.8,"y":46.4},{"g":"c","p":1,"i":11,"x":51,"y":45.7},{"g":"c","p":1,"i":12,"x":51.8,"y":44.1},{"g":"c","p":1,"i":13,"x":51.2,"y":41.5},{"g":"c","p":1,"i":14,"x":50,"y":38.6},{"g":"c","p":1,"i":15,"x":47.8,"y":33.2},{"g":"c","p":1,"i":16,"x":45.2,"y":27.5},{"g":"c","p":1,"i":17,"x":41.8,"y":21.3},{"g":"c","p":1,"i":18,"x":38.1,"y":15.4},{"g":"c","p":1,"i":19,"x":34,"y":10.4},{"g":"c","p":1,"i":20,"x":29.8,"y":6.6},{"g":"c","p":1,"i":21,"x":25.5,"y":3.6},{"g":"c","p":1,"i":22,"x":21.4,"y":1.1},{"g":"c","p":1,"i":23,"x":18.9,"y":0},
{"g":"a","p":2,"i":1,"x":17,"y":0},{"g":"a","p":2,"i":2,"x":10,"y":0},{"g":"a","p":2,"i":3,"x":10,"y":10},{"g":"a","p":2,"i":4,"x":0,"y":10},{"g":"a","p":2,"i":5,"x":0,"y":17.6},
{"g":"b","p":2,"i":1,"x":26.2,"y":0},{"g":"b","p":2,"i":2,"x":10,"y":0},{"g":"b","p":2,"i":3,"x":10,"y":10},{"g":"b","p":2,"i":4,"x":0,"y":10},{"g":"b","p":2,"i":5,"x":0,"y":19.9},
{"g":"c","p":2,"i":1,"x":18.9,"y":0},{"g":"c","p":2,"i":2,"x":10,"y":0},{"g":"c","p":2,"i":3,"x":10,"y":10},{"g":"c","p":2,"i":4,"x":0,"y":10},{"g":"c","p":2,"i":5,"x":0,"y":16}
]
},
"concat":[
{"width":253,"height":131,"title":"10−years return curves",
"encoding":{"x":{"field":"x","type":"quantitative","scale":{"domain":[-12.5,78],"nice":false,"zero":false},"axis":{"values":[0,20,40,60],"title":"Tapolca"}},"y":{"field":"y","type":"quantitative","scale":{"domain":[-8,79],"nice":false,"zero":false},"axis":{"values":[0,20,40,60],"title":"Székesfehérvár"}}},
"layer":[
{"data":{"values":[{"x":0,"y":-8,"y2":79}]},"mark":{"type":"rule","color":"#7f7f7f","strokeWidth":2},"encoding":{"y2":{"field":"y2"}}},
{"data":{"values":[{"x":-12.5,"x2":78,"y":0}]},"mark":{"type":"rule","color":"black","strokeWidth":1},"encoding":{"x2":{"field":"x2"}}},
{"data":{"name":"c1"},"transform":[{"filter":"datum.p==2"}],"mark":{"type":"line","strokeWidth":1,"clip":true},"encoding":{"color":{"field":"g","type":"nominal","scale":{"domain":["a","b","c"],"range":["black","#ff0000","#6a1ff0"]},"legend":{"orient":"none","legendX":156,"legendY":12,"title":null,"symbolType":"M-4,0H4","symbolSize":33,"symbolStrokeWidth":1,"labelFontSize":11.5,"labelFont":"Liberation Sans","labelColor":"black","labelOffset":20,"rowPadding":1.2,"padding":0,"labelExpr":"{'a':'1950−2012','b':'1965−1984','c':'1993−2012'}[datum.label]"}},"order":{"field":"i","type":"quantitative"}}},
{"data":{"name":"e1"},"mark":{"type":"point","shape":"circle","size":22,"filled":true,"color":"#6a1ff0","opacity":1,"clip":true}},
{"data":{"name":"p1"},"mark":{"type":"point","shape":"circle","size":22,"strokeWidth":0.8,"opacity":1,"clip":true},"encoding":{"stroke":{"field":"g","type":"nominal","scale":{"domain":["a","b","c"],"range":["black","#ff0000","#6a1ff0"]},"legend":null},"fill":{"field":"g","type":"nominal","scale":{"domain":["a","b","c"],"range":["transparent","#ff0000","#6a1ff0"]},"legend":null}}},
{"data":{"name":"c1"},"transform":[{"filter":"datum.p==1"}],"mark":{"type":"line","interpolate":"catmull-rom","strokeWidth":1,"clip":true},"encoding":{"color":{"field":"g","type":"nominal","scale":{"domain":["a","b","c"],"range":["black","#ff0000","#6a1ff0"]},"legend":{"orient":"none","legendX":156,"legendY":12,"title":null,"symbolType":"M-4,0H4","symbolSize":33,"symbolStrokeWidth":1,"labelFontSize":11.5,"labelFont":"Liberation Sans","labelColor":"black","labelOffset":20,"rowPadding":1.2,"padding":0,"labelExpr":"{'a':'1950−2012','b':'1965−1984','c':'1993−2012'}[datum.label]"}},"order":{"field":"i","type":"quantitative"}}}
]},
{"width":253,"height":131,"title":"10−years return curves",
"encoding":{"x":{"field":"x","type":"quantitative","scale":{"domain":[-12.5,78],"nice":false,"zero":false},"axis":{"values":[0,20,40,60],"title":"Várpalota"}},"y":{"field":"y","type":"quantitative","scale":{"domain":[-8,79],"nice":false,"zero":false},"axis":{"values":[0,20,40,60],"title":"Székesfehérvár"}}},
"layer":[
{"data":{"values":[{"x":0,"y":-8,"y2":79}]},"mark":{"type":"rule","color":"#7f7f7f","strokeWidth":2},"encoding":{"y2":{"field":"y2"}}},
{"data":{"values":[{"x":-12.5,"x2":78,"y":0}]},"mark":{"type":"rule","color":"black","strokeWidth":1},"encoding":{"x2":{"field":"x2"}}},
{"data":{"name":"c2"},"transform":[{"filter":"datum.p==2"}],"mark":{"type":"line","strokeWidth":1,"clip":true},"encoding":{"color":{"field":"g","type":"nominal","scale":{"domain":["a","b","c"],"range":["black","#ff0000","#6a1ff0"]},"legend":null},"order":{"field":"i","type":"quantitative"}}},
{"data":{"name":"e2"},"mark":{"type":"point","shape":"circle","size":22,"filled":true,"color":"#6a1ff0","opacity":1,"clip":true}},
{"data":{"name":"p2"},"mark":{"type":"point","shape":"circle","size":22,"strokeWidth":0.8,"opacity":1,"clip":true},"encoding":{"stroke":{"field":"g","type":"nominal","scale":{"domain":["a","b","c"],"range":["black","#ff0000","#6a1ff0"]},"legend":null},"fill":{"field":"g","type":"nominal","scale":{"domain":["a","b","c"],"range":["transparent","#ff0000","#6a1ff0"]},"legend":null}}},
{"data":{"name":"c2"},"transform":[{"filter":"datum.p==1"}],"mark":{"type":"line","interpolate":"catmull-rom","strokeWidth":1,"clip":true},"encoding":{"color":{"field":"g","type":"nominal","scale":{"domain":["a","b","c"],"range":["black","#ff0000","#6a1ff0"]},"legend":null},"order":{"field":"i","type":"quantitative"}}}
]},
{"width":253,"height":131,"title":"10−years return curves",
"encoding":{"x":{"field":"x","type":"quantitative","scale":{"domain":[-12.5,78],"nice":false,"zero":false},"axis":{"values":[0,20,40,60],"title":"Székesfehérvár"}},"y":{"field":"y","type":"quantitative","scale":{"domain":[-8,79],"nice":false,"zero":false},"axis":{"values":[0,20,40,60],"title":"Budapest"}}},
"layer":[
{"data":{"values":[{"x":0,"y":-8,"y2":79}]},"mark":{"type":"rule","color":"#7f7f7f","strokeWidth":2},"encoding":{"y2":{"field":"y2"}}},
{"data":{"values":[{"x":-12.5,"x2":78,"y":0}]},"mark":{"type":"rule","color":"black","strokeWidth":1},"encoding":{"x2":{"field":"x2"}}},
{"data":{"name":"c3"},"transform":[{"filter":"datum.p==2"}],"mark":{"type":"line","strokeWidth":1,"clip":true},"encoding":{"color":{"field":"g","type":"nominal","scale":{"domain":["a","b","c"],"range":["black","#ff0000","#6a1ff0"]},"legend":null},"order":{"field":"i","type":"quantitative"}}},
{"data":{"name":"e3"},"mark":{"type":"point","shape":"circle","size":22,"filled":true,"color":"#6a1ff0","opacity":1,"clip":true}},
{"data":{"name":"p3"},"mark":{"type":"point","shape":"circle","size":22,"strokeWidth":0.8,"opacity":1,"clip":true},"encoding":{"stroke":{"field":"g","type":"nominal","scale":{"domain":["a","b","c"],"range":["black","#ff0000","#6a1ff0"]},"legend":null},"fill":{"field":"g","type":"nominal","scale":{"domain":["a","b","c"],"range":["transparent","#ff0000","#6a1ff0"]},"legend":null}}},
{"data":{"name":"c3"},"transform":[{"filter":"datum.p==1"}],"mark":{"type":"line","interpolate":"catmull-rom","strokeWidth":1,"clip":true},"encoding":{"color":{"field":"g","type":"nominal","scale":{"domain":["a","b","c"],"range":["black","#ff0000","#6a1ff0"]},"legend":null},"order":{"field":"i","type":"quantitative"}}}
]},
{"width":253,"height":131,"title":"10−years return curves",
"encoding":{"x":{"field":"x","type":"quantitative","scale":{"domain":[-12.5,78],"nice":false,"zero":false},"axis":{"values":[0,20,40,60],"title":"Székesfehérvár"}},"y":{"field":"y","type":"quantitative","scale":{"domain":[-8,79],"nice":false,"zero":false},"axis":{"values":[0,20,40,60],"title":"Hatvan"}}},
"layer":[
{"data":{"values":[{"x":0,"y":-8,"y2":79}]},"mark":{"type":"rule","color":"#7f7f7f","strokeWidth":2},"encoding":{"y2":{"field":"y2"}}},
{"data":{"values":[{"x":-12.5,"x2":78,"y":0}]},"mark":{"type":"rule","color":"black","strokeWidth":1},"encoding":{"x2":{"field":"x2"}}},
{"data":{"name":"c4"},"transform":[{"filter":"datum.p==2"}],"mark":{"type":"line","strokeWidth":1,"clip":true},"encoding":{"color":{"field":"g","type":"nominal","scale":{"domain":["a","b","c"],"range":["black","#ff0000","#6a1ff0"]},"legend":null},"order":{"field":"i","type":"quantitative"}}},
{"data":{"name":"e4"},"mark":{"type":"point","shape":"circle","size":22,"filled":true,"color":"#6a1ff0","opacity":1,"clip":true}},
{"data":{"name":"p4"},"mark":{"type":"point","shape":"circle","size":22,"strokeWidth":0.8,"opacity":1,"clip":true},"encoding":{"stroke":{"field":"g","type":"nominal","scale":{"domain":["a","b","c"],"range":["black","#ff0000","#6a1ff0"]},"legend":null},"fill":{"field":"g","type":"nominal","scale":{"domain":["a","b","c"],"range":["transparent","#ff0000","#6a1ff0"]},"legend":null}}},
{"data":{"name":"c4"},"transform":[{"filter":"datum.p==1"}],"mark":{"type":"line","interpolate":"catmull-rom","strokeWidth":1,"clip":true},"encoding":{"color":{"field":"g","type":"nominal","scale":{"domain":["a","b","c"],"range":["black","#ff0000","#6a1ff0"]},"legend":null},"order":{"field":"i","type":"quantitative"}}}
]}
],
"config":{
"font":"Liberation Sans",
"view":{"stroke":"black","strokeWidth":1,"fill":null},
"axis":{"domain":false,"grid":false,"ticks":true,"tickColor":"black","tickSize":4,"tickWidth":1,"labelFont":"Liberation Sans","labelFontSize":11.5,"labelColor":"black","titleFont":"Liberation Sans","titleFontSize":11.5,"titleFontWeight":"normal","titleColor":"black","labelFlush":false,"labelOverlap":false},
"axisX":{"labelPadding":3,"titlePadding":6},
"axisY":{"labelAngle":270,"labelAlign":"center","labelBaseline":"alphabetic","labelPadding":5.5,"titlePadding":9},
"title":{"font":"Liberation Sans","fontSize":16.8,"fontWeight":"bold","color":"black","offset":7,"anchor":"middle"}
}
}
